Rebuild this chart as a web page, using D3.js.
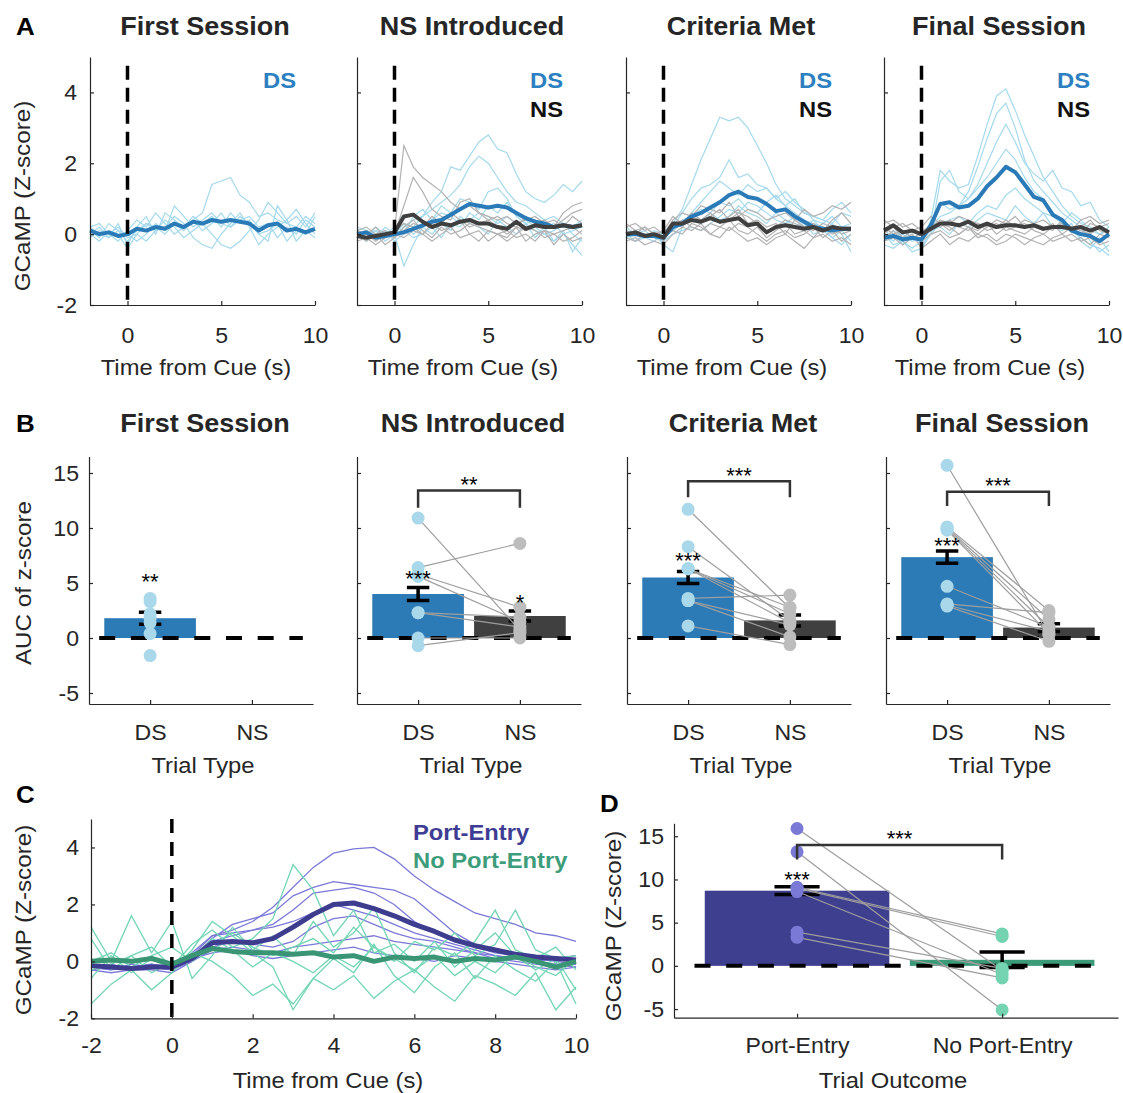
<!DOCTYPE html>
<html>
<head>
<meta charset="utf-8">
<script src="https://cdn.jsdelivr.net/npm/d3@7"></script>
<style>
  body { margin: 0; background: #fff; }
  svg text { font-family: "Liberation Sans", Arial, Helvetica, sans-serif; fill: #262626; }
</style>
</head>
<body>
<svg id="fig" width="1123" height="1093"></svg>
<script>
// ---- data ----
const timeS = [-2,-1.5,-1,-0.5,0,0.5,1,1.5,2,2.5,3,3.5,4,4.5,5,5.5,6,6.5,7,7.5,8,8.5,9,9.5,10];
const sessions = ["First Session", "NS Introduced", "Criteria Met", "Final Session"];
const trialTypes = ["DS", "NS"];

// panel A: mean traces per session
const dsMean = [
  [0.1,0.0,0.05,-0.05,0.0, 0.15,0.1,0.2,0.15,0.3, 0.2,0.35,0.3,0.4,0.35, 0.4,0.35,0.3,0.1,0.25, 0.3,0.1,0.15,0.05,0.15],
  [0.0,0.05,-0.1,-0.05,0.0, 0.05,0.15,0.25,0.35,0.4, 0.55,0.7,0.85,0.8,0.75, 0.8,0.75,0.6,0.45,0.35, 0.3,0.2,0.25,0.2,0.25],
  [0.0,0.0,-0.05,-0.05,-0.1, 0.2,0.3,0.5,0.6,0.75, 0.9,1.1,1.2,1.05,1.0, 0.85,0.65,0.7,0.5,0.35, 0.2,0.15,0.1,0.15,0.15],
  [-0.1,-0.05,-0.15,-0.1,-0.15, 0.25,0.85,0.9,0.75,0.8, 1.0,1.35,1.6,1.9,1.75, 1.4,1.05,0.95,0.55,0.4, 0.1,0.0,-0.05,-0.2,0.0]
];
const nsMean = [
  null,
  [-0.05,-0.1,-0.05,0.0,0.05, 0.5,0.55,0.35,0.2,0.3, 0.25,0.35,0.4,0.3,0.3, 0.2,0.15,0.35,0.15,0.25, 0.2,0.2,0.25,0.2,0.25],
  [0.0,0.05,-0.05,0.0,-0.1, 0.3,0.3,0.4,0.35,0.45, 0.35,0.4,0.45,0.25,0.3, 0.05,0.2,0.25,0.2,0.15, 0.2,0.1,0.2,0.15,0.15],
  [0.1,0.25,0.05,0.1,0.0, 0.15,0.3,0.3,0.25,0.35, 0.2,0.3,0.2,0.25,0.25, 0.2,0.25,0.15,0.2,0.2, 0.15,0.2,0.1,0.2,0.05]
];
// panel A: individual subject traces
const dsTraces = [
  [
    [0.2,0.0,-0.1,0.1,-0.2, 0.1,0.3,0.2,0.0,0.3, 0.1,0.4,0.6,1.4,1.5, 1.6,1.1,0.9,0.5,0.6, 0.4,0.3,0.2,0.5,0.3],
    [0.0,0.2,-0.1,0.3,-0.3, 0.2,0.5,0.0,0.6,0.4, 0.2,0.5,0.3,0.0,-0.3, -0.4,-0.2,0.1,0.4,0.9, 0.6,0.3,0.5,0.2,0.6],
    [0.1,-0.1,0.3,0.1,0.0, -0.2,0.0,0.3,0.1,0.8, 0.5,0.2,0.4,0.6,0.3, 0.2,0.5,0.3,0.0,-0.2, 0.8,0.4,0.7,0.3,0.0],
    [-0.1,0.1,0.0,-0.2,0.1, 0.4,0.2,0.6,0.3,0.0, 0.2,0.4,0.1,0.3,0.6, 0.2,0.4,0.5,0.2,0.3, -0.1,0.2,0.0,0.4,0.2],
    [0.2,0.3,0.0,0.2,-0.1, 0.0,-0.2,0.1,0.4,0.2, -0.1,0.1,0.3,0.5,0.2, 0.6,0.3,0.4,0.0,0.1, 0.3,-0.2,0.1,0.0,0.5],
    [0.0,-0.2,0.1,0.0,-0.4, 0.0,0.3,0.1,0.2,0.5, 0.3,-0.1,-0.3,-0.4,0.0, 0.3,0.6,0.2,-0.3,0.0, 0.2,0.4,-0.2,0.1,-0.1]
  ],
  [
    [0.1,-0.1,0.2,0.0,-0.1, 0.2,0.4,0.5,0.9,1.2, 1.9,1.8,2.2,2.6,2.8, 2.4,2.3,1.7,1.2,1.0, 0.9,1.1,1.4,1.2,1.5],
    [0.0,0.1,-0.1,0.2,0.0, 0.3,0.2,0.5,0.7,0.9, 1.1,1.4,1.9,2.2,2.0, 1.6,1.2,0.9,0.8,0.6, 0.4,0.5,0.3,0.2,0.4],
    [-0.1,0.0,0.1,-0.2,0.0, -0.9,-0.3,0.2,0.4,0.8, 0.6,1.0,0.9,0.7,1.2, 1.3,1.0,0.5,0.3,0.1, 0.0,-0.2,0.1,-0.5,-0.1],
    [0.2,0.1,0.0,0.1,-0.2, 0.0,0.5,0.7,0.4,0.6, 0.5,0.3,0.4,0.6,0.5, 0.3,0.5,0.3,0.4,0.2, 0.0,0.1,0.3,0.0,-0.2],
    [0.0,-0.2,0.1,0.0,0.2, 0.1,-0.1,0.0,0.2,-0.1, 0.3,0.2,0.6,0.4,0.8, 0.6,0.9,0.5,0.3,0.4, 0.2,0.3,0.0,0.1,0.2],
    [-0.1,0.1,-0.1,0.1,0.0, 0.3,0.0,0.2,0.0,0.3, 0.1,0.5,0.3,0.2,0.0, 0.4,0.2,0.0,0.3,-0.1, 0.2,-0.2,0.0,-0.3,-0.6]
  ],
  [
    [0.0,0.1,-0.1,0.0,-0.2, 0.3,0.7,1.4,2.1,2.7, 3.3,3.2,3.3,3.0,2.5, 2.0,1.4,1.0,0.8,0.6, 0.5,0.4,0.3,0.6,0.5],
    [0.1,0.0,0.1,-0.1,0.0, 0.2,0.6,1.0,1.3,1.4, 1.6,2.1,1.6,1.7,1.4, 1.3,1.0,1.2,0.9,0.7, 0.4,0.3,0.5,0.2,0.3],
    [-0.1,0.0,0.2,0.0,-0.3, -0.5,0.2,0.6,0.9,1.2, 1.5,1.3,1.1,1.4,1.2, 1.3,1.0,0.8,0.6,0.4, 0.3,0.2,-0.1,-0.3,0.0],
    [0.2,0.0,-0.1,0.1,0.0, 0.2,0.4,0.5,0.7,0.6, 0.9,0.8,1.0,0.7,0.6, 0.9,1.1,0.8,1.0,0.6, 0.5,0.4,0.7,0.9,0.6],
    [0.0,-0.2,-0.1,-0.2,0.0, 0.1,0.3,0.4,0.3,0.6, 0.4,0.5,0.8,0.6,0.5, 0.3,0.6,0.4,0.2,0.3, 0.0,0.1,-0.1,0.1,-0.2],
    [-0.1,0.1,0.0,-0.1,-0.2, 0.0,0.1,0.2,0.1,0.3, 0.5,0.7,0.6,0.9,0.8, 0.6,0.4,0.3,0.5,0.2, 0.4,0.1,0.3,0.0,-0.5]
  ],
  [
    [-0.2,0.0,-0.3,-0.1,-0.2, 0.4,1.8,1.5,1.3,1.4, 2.2,3.1,3.9,4.1,3.5, 2.8,2.2,1.6,1.2,0.8, 0.5,0.3,0.2,0.0,0.1],
    [0.0,-0.2,0.1,-0.1,0.0, 0.3,0.9,0.7,0.8,1.2, 1.9,2.7,3.4,3.7,3.0, 2.1,1.5,1.2,0.9,0.6, 0.4,0.2,-0.2,-0.5,-0.3],
    [-0.3,-0.4,-0.2,-0.5,-0.4, 0.0,1.5,1.8,1.2,1.0, 1.4,2.0,2.6,3.1,2.6, 2.0,1.7,1.5,1.8,1.3, 1.2,0.8,0.9,0.4,0.2],
    [0.1,-0.1,0.0,-0.2,-0.1, 0.2,0.5,0.6,0.8,1.0, 1.3,1.6,2.0,2.4,2.1, 1.6,1.2,1.0,0.6,0.3, 0.1,-0.1,-0.3,-0.4,-0.6],
    [-0.2,0.1,-0.1,0.0,-0.3, 0.0,0.3,0.4,0.5,0.3, 0.6,0.8,0.7,1.1,1.3, 1.0,0.8,0.6,0.5,0.3, 0.6,0.4,0.1,0.0,0.2],
    [0.0,-0.3,-0.2,-0.4,-0.2, 0.1,0.2,0.0,0.3,0.2, 0.4,0.6,0.5,0.4,0.8, 0.5,0.3,0.6,0.2,0.1, 0.3,-0.2,-0.4,-0.1,-0.5]
  ]
];
const nsTraces = [
  [],
  [
    [0.0,0.1,-0.1,0.0,0.1, 2.5,1.9,1.6,1.4,1.2, 0.9,0.7,0.8,0.6,0.5, 0.4,0.5,0.3,0.4,0.5, 0.3,0.2,0.4,0.6,0.7],
    [0.1,0.0,0.2,-0.1,0.0, 0.8,1.6,1.2,0.7,0.5, 0.4,0.9,1.0,0.6,0.4, 0.5,0.3,0.2,0.1,0.2, 0.3,0.4,0.2,0.5,0.3],
    [-0.1,0.0,-0.2,0.0,0.1, 0.3,0.2,0.0,0.3,0.1, 0.2,0.4,0.0,0.1,-0.2, 0.0,0.1,-0.1,0.0,-0.2, 0.1,-0.3,0.0,-0.2,-0.1],
    [0.0,-0.2,0.0,-0.3,-0.1, 0.2,0.4,0.1,-0.1,0.2, 0.0,0.1,0.3,0.2,0.1, 0.0,-0.2,0.0,0.2,0.1, -0.1,0.0,0.1,0.2,0.0],
    [0.1,0.2,0.0,0.1,-0.1, 0.1,0.3,0.2,0.5,0.3, 0.6,0.4,0.2,0.3,0.4, 0.2,0.0,0.2,0.5,0.3, 0.4,0.2,0.6,0.8,0.9],
    [-0.2,-0.1,-0.3,-0.1,0.0, -0.1,0.1,0.0,-0.2,0.0, 0.2,-0.1,0.0,-0.2,0.1, 0.0,-0.1,0.2,-0.2,0.0, 0.1,0.0,-0.2,-0.1,0.1]
  ],
  [
    [0.2,0.3,0.1,0.2,0.0, 0.4,0.6,0.5,0.8,0.7, 0.6,0.9,0.5,0.7,0.6, 0.4,0.5,0.6,0.4,0.7, 0.5,0.6,0.8,0.7,0.9],
    [0.0,0.1,-0.1,0.0,-0.2, 0.3,0.2,0.5,0.4,0.6, 0.3,0.5,0.7,0.3,0.4, 0.2,0.3,0.0,0.4,0.2, 0.3,0.1,0.4,0.6,0.3],
    [-0.1,-0.2,0.0,-0.1,0.1, 0.2,0.4,0.2,0.1,0.3, 0.2,0.4,0.1,0.0,0.2, -0.1,0.1,0.3,0.0,0.1, -0.1,0.2,0.0,0.1,0.2],
    [0.1,0.0,0.2,0.0,-0.1, 0.1,0.0,0.3,0.2,0.0, 0.2,0.1,0.3,0.2,0.0, -0.2,0.0,0.1,-0.1,0.0, 0.2,-0.1,0.1,-0.2,0.0],
    [-0.2,-0.1,-0.3,-0.2,-0.3, 0.0,0.2,0.1,0.3,0.0, -0.1,0.2,0.0,-0.2,-0.1, -0.3,-0.1,0.0,-0.2,-0.4, -0.1,0.0,-0.2,-0.1,-0.3],
    [0.3,0.1,0.2,0.0,0.1, 0.5,0.3,0.6,0.4,0.5, 0.7,0.4,0.6,0.5,0.3, 0.1,0.2,0.4,0.3,0.2, 0.1,0.3,0.2,0.0,0.1]
  ],
  [
    [0.3,0.4,0.2,0.3,0.1, 0.2,0.4,0.3,0.5,0.4, 0.3,0.2,0.4,0.3,0.5, 0.2,0.3,0.4,0.2,0.3, 0.1,0.4,0.5,0.3,0.4],
    [0.0,0.2,-0.1,0.1,0.0, 0.1,0.3,0.2,0.0,0.2, 0.1,0.3,0.0,0.2,0.1, 0.0,0.2,0.1,0.3,0.0, 0.2,0.1,0.0,0.2,0.1],
    [-0.2,-0.1,-0.3,-0.1,-0.2, 0.0,0.1,-0.1,0.0,0.2, -0.1,0.0,-0.2,0.0,-0.1, -0.3,-0.1,0.0,-0.2,-0.1, 0.0,-0.2,-0.1,-0.3,-0.2],
    [0.2,0.0,0.1,-0.1,0.0, 0.3,0.2,0.4,0.2,0.1, 0.3,0.1,0.2,0.4,0.2, 0.3,0.1,0.0,0.2,0.3, 0.1,0.2,0.4,0.1,0.0],
    [-0.1,0.1,-0.2,0.0,-0.4, -0.2,0.0,-0.3,-0.1,-0.2, 0.0,-0.1,-0.3,-0.2,0.0, -0.1,-0.2,-0.3,-0.1,0.0, -0.2,-0.1,-0.3,0.0,-0.1],
    [0.4,0.2,0.3,0.1,0.2, 0.5,0.3,0.1,0.3,0.2, 0.0,0.2,0.3,0.1,0.2, 0.4,0.3,0.2,0.1,0.4, 0.2,0.0,0.3,0.2,0.3]
  ]
];

// panel B: AUC bars, SEM, subject points
const bDSMean = [1.8, 4.0, 5.5, 7.35];
const bDSSem  = [0.55, 0.6, 0.55, 0.55];
const bNSMean = [null, 2.0, 1.6, 0.95];
const bNSSem  = [null, 0.45, 0.5, 0.35];
const bDSPoints = [
  [3.6, 3.3, 2.2, 1.8, 1.4, 0.4, -1.6],
  [10.9, 6.4, 5.8, 5.6, 2.3, 2.3, 0.0, -0.7],
  [11.7, 8.3, 6.3, 6.3, 6.3, 3.6, 3.4, 3.4, 1.1],
  [15.7, 10.1, 10.0, 9.9, 9.8, 4.7, 3.1, 3.0, 2.9]
];
const bNSPoints = [
  [],
  [0.7, 8.6, 2.8, 1.5, 1.9, 1.0, 0.0, 0.5],
  [2.7, 1.6, 2.8, 2.2, 1.4, 3.9, 1.2, 0.1, -0.6],
  [0.3, 2.5, 1.7, 1.0, 0.4, 1.0, 2.3, 0.6, -0.3]
];
const bDSStar = ["**", "***", "***", "***"];
const bDSStarY = [5.55, 5.85, 7.5, 8.9];
const bNSStar = ["", "*", "", ""];
const bNSStarY = [null, 3.7, null, null];
const bPairStar = ["", "**", "***", "***"];
const bPairTop = [null, 13.4, 14.25, 13.3];
const bPairLeg = [null, 11.85, 12.8, 12.0];

// panel C: port-entry vs no port-entry traces
const peMean = [-0.15,-0.2,-0.25,-0.2,-0.2, 0.1,0.65,0.7,0.65,0.8, 1.2,1.65,2.0,2.05,1.85, 1.6,1.3,1.05,0.75,0.55, 0.4,0.25,0.15,0.1,0.05];
const npMean = [0.0,0.05,0.0,0.1,-0.1, 0.2,0.45,0.35,0.3,0.3, 0.25,0.3,0.15,0.2,0.0, 0.15,0.1,0.15,0.0,0.1, 0.05,0.15,0.0,-0.2,0.0];
const peTraces = [
  [-0.3,-0.2,-0.3,-0.2,-0.3, 0.2,0.9,1.1,1.4,1.9, 2.6,3.3,3.8,3.95,4.0, 3.6,3.0,2.5,2.1,1.7, 1.5,1.3,1.0,0.9,0.7],
  [-0.2,-0.3,-0.1,-0.2,-0.3, 0.1,0.8,1.3,1.5,1.7, 2.3,2.6,2.8,2.7,2.6, 2.5,2.2,1.6,1.0,0.6, 0.4,0.2,0.1,0.0,-0.1],
  [-0.1,-0.2,-0.2,-0.1,-0.2, 0.3,0.9,1.0,1.1,1.3, 1.8,2.4,2.5,2.6,2.4, 2.0,1.4,1.0,0.7,0.5, 0.3,0.2,0.0,0.1,0.2],
  [-0.3,-0.4,-0.3,-0.3,-0.4, 0.0,0.7,0.9,1.1,1.2, 1.4,1.7,2.0,1.8,1.6, 1.3,1.0,0.8,0.6,0.4, 0.2,0.1,0.0,-0.1,-0.2],
  [-0.2,-0.1,-0.3,-0.2,-0.1, 0.2,0.5,0.7,0.6,0.5, 0.7,1.2,1.5,1.6,1.3, 1.0,0.8,0.7,0.5,0.3, 0.1,0.0,-0.1,-0.2,-0.1],
  [-0.2,-0.3,-0.2,-0.1,-0.3, 0.0,0.4,0.5,0.4,0.3, 0.5,0.6,0.7,0.8,0.9, 0.7,0.6,0.5,0.4,0.3, 0.2,0.1,0.0,-0.1,-0.2],
  [-0.1,-0.2,-0.3,-0.2,-0.2, 0.1,0.3,0.4,0.2,0.1, 0.2,0.3,0.4,0.5,0.3, 0.2,0.1,0.0,0.2,0.1, 0.0,-0.1,-0.2,-0.3,-0.2]
];
const npTraces = [
  [0.8,-0.3,0.2,0.5,-0.2, 0.6,1.1,0.5,0.8,1.5, 3.4,2.5,0.9,1.8,0.3, 0.6,0.0,0.7,-0.2,0.4, 1.0,0.2,-0.3,0.1,-1.0],
  [1.2,0.0,1.6,0.3,1.4, -0.6,0.2,1.2,0.4,0.9, 0.2,1.4,0.5,1.0,1.9, 0.3,-0.4,0.5,0.2,0.7, 1.8,0.4,0.1,0.5,-0.3],
  [-1.5,-0.8,-0.3,-1.0,-0.4, 0.3,0.0,-0.5,-1.2,-0.8, -1.5,-0.6,-1.0,-0.5,-1.3, -0.7,-0.3,-0.9,-1.4,-0.5, -0.8,-1.2,-0.4,-1.7,-0.9],
  [-0.6,0.2,-0.4,0.1,-0.3, 0.4,1.4,0.9,0.3,-0.2, -1.7,-0.6,0.1,-0.4,0.6, -0.5,-1.1,-0.2,0.3,-0.6, 0.2,-0.3,-0.7,0.0,-1.5],
  [0.0,0.3,-0.2,0.2,0.5, 0.0,0.6,1.0,0.5,0.2, 0.5,0.8,0.3,1.2,0.5, 0.0,0.7,0.4,1.0,0.2, 0.6,1.8,0.4,0.1,0.2],
  [-0.3,-0.1,0.2,-0.4,0.0, 0.1,0.8,0.4,-0.2,0.3, 0.0,-0.4,0.2,-0.2,0.5, 0.1,-0.3,0.2,-0.5,0.0, -0.4,0.3,-0.2,-0.5,0.1]
];

// panel D: trial outcome bars and subject points
const outcomes = ["Port-Entry", "No Port-Entry"];
const dMean = [8.7, 0.7];
const dSem = [0.45, 0.9];
const dPEPoints = [15.9, 13.2, 9.1, 9.0, 8.6, 3.9, 3.3];
const dNPPoints = [-0.5, -5.1, 3.7, 3.4, -1.0, -0.3, -1.4];
const dStar = "***", dStarY = 10.6;
const dPairStar = "***", dPairTop = 14.0, dPairLeg = 12.3;

// ---- drawing ----
const svg = d3.select("#fig");
const ink = "#262626";
const col = {
  dsDark: "#2a7ab8", dsLight: "#a5d9ec", nsDark: "#3f3f3f", nsLight: "#b3b3b3",
  dsBar: "#2c7bb6", nsBar: "#404040", dsPt: "#a8d8ea", nsPt: "#bdbdbd",
  peDark: "#3d3c8f", peLight: "#7b79d8", npDark: "#3a9574", npLight: "#72d5b3",
  peBar: "#3e3f8f", npBar: "#3b9a77", pePt: "#7a7ad6", npPt: "#74d3b1", pair: "#9e9e9e"
};

// the source figure's lettering runs a little wider than Arial
function widen(sel, k) {
  sel.each(function () {
    const w = this.getComputedTextLength();
    if (w > 0) d3.select(this).attr("textLength", w * k).attr("lengthAdjust", "spacingAndGlyphs");
  });
  return sel;
}

function axisStyle(g) {
  g.attr("font-size", 22).attr("font-family", null);
  g.select(".domain").attr("stroke", ink).attr("stroke-width", 1.2);
  g.selectAll(".tick line").attr("stroke", ink).attr("stroke-width", 1.2);
  g.selectAll(".tick text").attr("fill", ink);
  widen(g.selectAll(".tick text"), 1.05);
}

function label(x, y, str, size, bold, anchor, fill) {
  const t = svg.append("text").attr("x", x).attr("y", y)
    .attr("font-size", size).attr("font-weight", bold ? "bold" : null)
    .attr("text-anchor", anchor || "middle").style("fill", fill || ink).text(str);
  if (!str.includes("*")) widen(t, 1.08);
  return t;
}

function ylabel(x, y, str) {
  const t = svg.append("text").attr("transform", `translate(${x},${y}) rotate(-90)`)
    .attr("font-size", 22).attr("text-anchor", "middle").text(str);
  widen(t, 1.1);
}

const noLabels = () => "";
const plain = d => d;

// panel A
const aLeft = [90, 357, 626, 884];
sessions.forEach((name, i) => {
  const x = d3.scaleLinear().domain([-2, 10]).range([aLeft[i], aLeft[i] + 225]);
  const y = d3.scaleLinear().domain([-2, 5]).range([305, 57]);
  const line = d3.line().x((d, j) => x(timeS[j])).y(d => y(d));
  const g = svg.append("g");

  g.selectAll(null).data(dsTraces[i]).join("path")
    .attr("d", line).attr("fill", "none").attr("stroke", col.dsLight).attr("stroke-width", 1.2);
  g.selectAll(null).data(nsTraces[i]).join("path")
    .attr("d", line).attr("fill", "none").attr("stroke", col.nsLight).attr("stroke-width", 1.2);
  g.append("path").attr("d", line(dsMean[i])).attr("fill", "none")
    .attr("stroke", col.dsDark).attr("stroke-width", 4).attr("stroke-linejoin", "round");
  if (nsMean[i]) {
    g.append("path").attr("d", line(nsMean[i])).attr("fill", "none")
      .attr("stroke", col.nsDark).attr("stroke-width", 4).attr("stroke-linejoin", "round");
  }

  g.append("line").attr("x1", x(0)).attr("x2", x(0)).attr("y1", y(4.75)).attr("y2", y(-2))
    .attr("stroke", "#000").attr("stroke-width", 3.5).attr("stroke-dasharray", "14,8");

  g.append("g").attr("transform", "translate(0,305)")
    .call(d3.axisBottom(x).tickValues([0, 5, 10]).tickFormat(plain).tickSizeInner(-4).tickSizeOuter(0).tickPadding(22))
    .call(axisStyle);
  g.append("g").attr("transform", `translate(${aLeft[i]},0)`)
    .call(d3.axisLeft(y).tickValues([-2, 0, 2, 4]).tickSizeInner(-4).tickSizeOuter(0).tickPadding(13)
      .tickFormat(i === 0 ? plain : noLabels))
    .call(axisStyle);

  label(aLeft[i] + 115, 35, name, 25, true);
  label(aLeft[i] + 106, 375, "Time from Cue (s)", 22);
  label(aLeft[i] + 206, 88, "DS", 22, true, "end", "#2c7fc0");
  if (nsMean[i]) label(aLeft[i] + 206, 117, "NS", 22, true, "end", "#111");
});
label(16, 35, "A", 24, true, "start", "#000");
ylabel(30, 196, "GCaMP (Z-score)");

// panel B
const bLeft = [89, 357, 627, 886];
sessions.forEach((name, i) => {
  const x = d3.scaleLinear().domain([0.4, 2.6]).range([bLeft[i], bLeft[i] + 224]);
  const y = d3.scaleLinear().domain([-6, 16.5]).range([704, 456.5]);
  const g = svg.append("g");
  const rows = [
    { pos: 1, mean: bDSMean[i], sem: bDSSem[i], fill: col.dsBar },
    { pos: 2, mean: bNSMean[i], sem: bNSSem[i], fill: col.nsBar }
  ].filter(r => r.mean != null);

  g.selectAll(null).data(rows).join("rect")
    .attr("x", d => x(d.pos - 0.45)).attr("width", d => x(d.pos + 0.45) - x(d.pos - 0.45))
    .attr("y", d => y(Math.max(d.mean, 0))).attr("height", d => Math.abs(y(d.mean) - y(0)))
    .attr("fill", d => d.fill);

  g.append("line").attr("x1", x(0.5)).attr("x2", x(2.5)).attr("y1", y(0)).attr("y2", y(0))
    .attr("stroke", "#000").attr("stroke-width", 4).attr("stroke-dasharray", "16,15.7");

  const cap = x(1.11) - x(1);
  g.selectAll(null).data(rows).join("path")
    .attr("d", d => {
      const cx = x(d.pos), y1 = y(d.mean + d.sem), y0 = y(d.mean - d.sem);
      return `M${cx - cap},${y1}H${cx + cap}M${cx},${y1}V${y0}M${cx - cap},${y0}H${cx + cap}`;
    })
    .attr("stroke", "#000").attr("stroke-width", 3.5).attr("fill", "none");

  const pairs = bDSPoints[i].map((v, k) => [v, bNSPoints[i][k]]).filter(p => p[1] != null);
  g.selectAll(null).data(pairs).join("line")
    .attr("x1", x(1)).attr("x2", x(2)).attr("y1", d => y(d[0])).attr("y2", d => y(d[1]))
    .attr("stroke", col.pair).attr("stroke-width", 1.2);
  g.selectAll(null).data(bDSPoints[i]).join("circle")
    .attr("cx", x(1)).attr("cy", d => y(d)).attr("r", 6.5).attr("fill", col.dsPt);
  g.selectAll(null).data(bNSPoints[i]).join("circle")
    .attr("cx", x(2)).attr("cy", d => y(d)).attr("r", 6.5).attr("fill", col.nsPt);

  label(x(1), y(bDSStarY[i]), bDSStar[i], 22, false, "middle", "#000").attr("dy", "0.57em");
  if (bNSStar[i]) label(x(2), y(bNSStarY[i]), bNSStar[i], 22, false, "middle", "#000").attr("dy", "0.57em");
  if (bPairStar[i]) {
    g.append("path")
      .attr("d", `M${x(1)},${y(bPairLeg[i])}V${y(bPairTop[i])}H${x(2)}V${y(bPairLeg[i])}`)
      .attr("fill", "none").attr("stroke", "#333").attr("stroke-width", 2.5);
    label((x(1) + x(2)) / 2, y(bPairTop[i] + 1.0), bPairStar[i], 22, false, "middle", "#000").attr("dy", "0.57em");
  }

  g.append("g").attr("transform", "translate(0,704)")
    .call(d3.axisBottom(x).tickValues([1, 2]).tickFormat(d => trialTypes[d - 1])
      .tickSizeInner(-4).tickSizeOuter(0).tickPadding(20))
    .call(axisStyle);
  g.append("g").attr("transform", `translate(${bLeft[i]},0)`)
    .call(d3.axisLeft(y).tickValues([-5, 0, 5, 10, 15]).tickSizeInner(-4).tickSizeOuter(0).tickPadding(10)
      .tickFormat(i === 0 ? plain : noLabels))
    .call(axisStyle);

  label(bLeft[i] + 116, 432, name, 25, true);
  label(bLeft[i] + 114, 773, "Trial Type", 22);
});
label(16, 432, "B", 24, true, "start", "#000");
ylabel(31, 583, "AUC of z-score");

// panel C
{
  const x = d3.scaleLinear().domain([-2, 10]).range([91, 576]);
  const y = d3.scaleLinear().domain([-2, 5]).range([1018.3, 819]);
  const line = d3.line().x((d, j) => x(timeS[j])).y(d => y(d));
  const g = svg.append("g");
  g.selectAll(null).data(peTraces).join("path")
    .attr("d", line).attr("fill", "none").attr("stroke", col.peLight).attr("stroke-width", 1.3);
  g.selectAll(null).data(npTraces).join("path")
    .attr("d", line).attr("fill", "none").attr("stroke", col.npLight).attr("stroke-width", 1.3);
  g.append("path").attr("d", line(peMean)).attr("fill", "none")
    .attr("stroke", col.peDark).attr("stroke-width", 5).attr("stroke-linejoin", "round");
  g.append("path").attr("d", line(npMean)).attr("fill", "none")
    .attr("stroke", col.npDark).attr("stroke-width", 5).attr("stroke-linejoin", "round");

  g.append("line").attr("x1", x(0)).attr("x2", x(0)).attr("y1", y(5)).attr("y2", y(-2))
    .attr("stroke", "#000").attr("stroke-width", 3.5).attr("stroke-dasharray", "14,9");

  g.append("g").attr("transform", "translate(0,1018.3)")
    .call(d3.axisBottom(x).tickValues([-2, 0, 2, 4, 6, 8, 10]).tickFormat(plain)
      .tickSizeInner(-4).tickSizeOuter(0).tickPadding(19))
    .call(axisStyle);
  g.append("g").attr("transform", "translate(91,0)")
    .call(d3.axisLeft(y).tickValues([-2, 0, 2, 4]).tickSizeInner(-4).tickSizeOuter(0).tickPadding(12).tickFormat(plain))
    .call(axisStyle);

  label(328, 1088, "Time from Cue (s)", 22);
  label(413, 840, "Port-Entry", 22, true, "start", "#3e3d93");
  label(413, 868, "No Port-Entry", 22, true, "start", "#3d9c7a");
  label(16, 803, "C", 24, true, "start", "#000");
  ylabel(31, 920, "GCaMP (Z-score)");
}

// panel D
{
  const x = d3.scaleLinear().domain([0.4, 2.565]).range([674, 1118]);
  const y = d3.scaleLinear().domain([-6, 16.5]).range([1017.7, 823.3]);
  const g = svg.append("g");
  const rows = [
    { pos: 1, mean: dMean[0], sem: dSem[0], fill: col.peBar },
    { pos: 2, mean: dMean[1], sem: dSem[1], fill: col.npBar }
  ];
  g.selectAll(null).data(rows).join("rect")
    .attr("x", d => x(d.pos - 0.45)).attr("width", d => x(d.pos + 0.45) - x(d.pos - 0.45))
    .attr("y", d => y(Math.max(d.mean, 0))).attr("height", d => Math.abs(y(d.mean) - y(0)))
    .attr("fill", d => d.fill);

  g.append("line").attr("x1", x(0.5)).attr("x2", x(2.45)).attr("y1", y(0)).attr("y2", y(0))
    .attr("stroke", "#000").attr("stroke-width", 4).attr("stroke-dasharray", "16,15.7");

  const cap = x(1.11) - x(1);
  g.selectAll(null).data(rows).join("path")
    .attr("d", d => {
      const cx = x(d.pos), y1 = y(d.mean + d.sem), y0 = y(d.mean - d.sem);
      return `M${cx - cap},${y1}H${cx + cap}M${cx},${y1}V${y0}M${cx - cap},${y0}H${cx + cap}`;
    })
    .attr("stroke", "#000").attr("stroke-width", 3.5).attr("fill", "none");

  g.selectAll(null).data(dPEPoints.map((v, k) => [v, dNPPoints[k]])).join("line")
    .attr("x1", x(1)).attr("x2", x(2)).attr("y1", d => y(d[0])).attr("y2", d => y(d[1]))
    .attr("stroke", col.pair).attr("stroke-width", 1.2);
  g.selectAll(null).data(dPEPoints).join("circle")
    .attr("cx", x(1)).attr("cy", d => y(d)).attr("r", 6.5).attr("fill", col.pePt);
  g.selectAll(null).data(dNPPoints).join("circle")
    .attr("cx", x(2)).attr("cy", d => y(d)).attr("r", 6.5).attr("fill", col.npPt);

  label(x(1), y(dStarY), dStar, 22, false, "middle", "#000").attr("dy", "0.57em");
  g.append("path")
    .attr("d", `M${x(1)},${y(dPairLeg)}V${y(dPairTop)}H${x(2)}V${y(dPairLeg)}`)
    .attr("fill", "none").attr("stroke", "#333").attr("stroke-width", 2.5);
  label((x(1) + x(2)) / 2, y(dPairTop + 1.35), dPairStar, 22, false, "middle", "#000").attr("dy", "0.57em");

  g.append("g").attr("transform", "translate(0,1017.7)")
    .call(d3.axisBottom(x).tickValues([1, 2]).tickFormat(d => outcomes[d - 1])
      .tickSizeInner(-4).tickSizeOuter(0).tickPadding(20))
    .call(axisStyle);
  g.append("g").attr("transform", "translate(674,0)")
    .call(d3.axisLeft(y).tickValues([-5, 0, 5, 10, 15]).tickSizeInner(-4).tickSizeOuter(0).tickPadding(10).tickFormat(plain))
    .call(axisStyle);

  label(893, 1088, "Trial Outcome", 22);
  label(600, 812, "D", 24, true, "start", "#000");
  ylabel(621, 926, "GCaMP (Z-score)");
}
</script>
</body>
</html>
